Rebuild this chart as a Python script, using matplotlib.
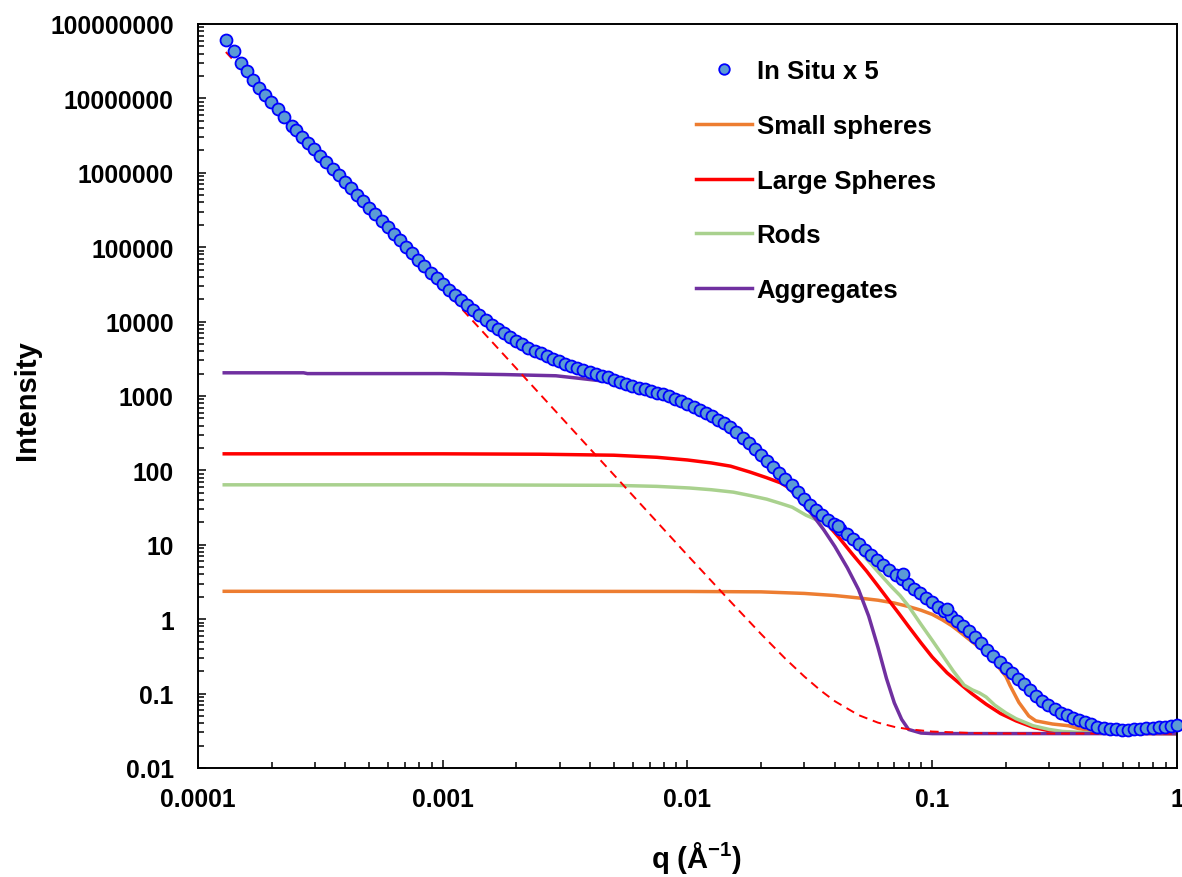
import numpy as np
import matplotlib
matplotlib.use('Agg')
import matplotlib.pyplot as plt
from matplotlib.ticker import LogLocator, FuncFormatter, NullFormatter

plt.rcParams['font.family'] = ['Liberation Sans', 'DejaVu Sans']
plt.rcParams['font.weight'] = 'bold'
plt.rcParams['mathtext.fontset'] = 'custom'
plt.rcParams['mathtext.rm'] = 'Liberation Sans:bold'
plt.rcParams['mathtext.it'] = 'Liberation Sans:bold'
plt.rcParams['mathtext.bf'] = 'Liberation Sans:bold'

# In situ scattering data (x 5)
q_data = [
    1.30e-4, 1.403e-4, 1.496e-4, 1.585e-4, 1.679e-4, 1.778e-4, 1.884e-4, 1.995e-4, 2.113e-4, 2.239e-4,
    2.415e-4, 2.512e-4, 2.661e-4, 2.818e-4, 2.985e-4, 3.162e-4, 3.350e-4, 3.548e-4, 3.758e-4, 3.981e-4,
    4.217e-4, 4.467e-4, 4.732e-4, 5.012e-4, 5.309e-4, 5.623e-4, 5.957e-4, 6.310e-4, 6.683e-4, 7.079e-4,
    7.499e-4, 7.943e-4, 8.414e-4, 8.913e-4, 9.441e-4, 1.000e-3, 1.059e-3, 1.122e-3, 1.189e-3, 1.259e-3,
    1.334e-3, 1.413e-3, 1.496e-3, 1.585e-3, 1.679e-3, 1.778e-3, 1.884e-3, 1.995e-3, 2.113e-3, 2.239e-3,
    2.371e-3, 2.512e-3, 2.661e-3, 2.818e-3, 2.985e-3, 3.162e-3, 3.350e-3, 3.548e-3, 3.758e-3, 3.981e-3,
    4.217e-3, 4.467e-3, 4.732e-3, 5.012e-3, 5.309e-3, 5.623e-3, 5.957e-3, 6.310e-3, 6.683e-3, 7.079e-3,
    7.499e-3, 7.943e-3, 8.414e-3, 8.913e-3, 9.441e-3, 0.01000, 0.01059, 0.01122, 0.01189, 0.01259,
    0.01334, 0.01413, 0.01496, 0.01585, 0.01679, 0.01778, 0.01884, 0.01995, 0.02113, 0.02239,
    0.02371, 0.02512, 0.02661, 0.02818, 0.02985, 0.03162, 0.03350, 0.03548, 0.03758, 0.03981,
    0.04217, 0.04467, 0.04732, 0.05012, 0.05309, 0.05623, 0.05957, 0.06310, 0.06683, 0.07079,
    0.07499, 0.07943, 0.08414, 0.08913, 0.09441, 0.1000, 0.1059, 0.1122, 0.1189, 0.1259,
    0.1334, 0.1413, 0.1496, 0.1585, 0.1679, 0.1778, 0.1884, 0.1995, 0.2113, 0.2239,
    0.2371, 0.2512, 0.2661, 0.2818, 0.2985, 0.3162, 0.3350, 0.3548, 0.3758, 0.3981,
    0.4217, 0.4467, 0.4732, 0.5012, 0.5309, 0.5623, 0.5957, 0.6310, 0.6683, 0.7079,
    0.7499, 0.7943, 0.8414, 0.8913, 0.9441, 1.000,
    0.0413, 0.0762, 0.1146]
I_data = [
    6.03e7, 4.27e7, 3.02e7, 2.30e7, 1.79e7, 1.40e7, 1.11e7, 9.00e6, 7.16e6, 5.65e6,
    4.30e6, 3.75e6, 3.07e6, 2.51e6, 2.06e6, 1.68e6, 1.38e6, 1.13e6, 9.25e5, 7.55e5,
    6.18e5, 5.06e5, 4.14e5, 3.39e5, 2.77e5, 2.27e5, 1.86e5, 1.52e5, 1.24e5, 1.02e5,
    8.34e4, 6.82e4, 5.58e4, 4.54e4, 3.81e4, 3.21e4, 2.69e4, 2.29e4, 1.95e4, 1.67e4,
    1.43e4, 1.22e4, 1.04e4, 8970, 7910, 6980, 6150, 5510, 4930, 4420,
    4050, 3740, 3450, 3180, 2940, 2720, 2520, 2390, 2250, 2090,
    1970, 1870, 1780, 1620, 1520, 1450, 1380, 1300, 1240, 1170,
    1110, 1050, 998, 920, 849, 782, 716, 652, 593, 537,
    481, 430, 384, 325, 276, 234, 195, 161, 133, 110,
    91.4, 75.7, 62.7, 51.9, 41.7, 34.2, 29.4, 25.4, 21.8, 18.8,
    16.2, 14.0, 11.9, 10.1, 8.63, 7.35, 6.27, 5.33, 4.54, 3.94,
    3.42, 2.96, 2.58, 2.24, 1.95, 1.69, 1.46, 1.27, 1.10, 0.940,
    0.802, 0.684, 0.575, 0.473, 0.380, 0.318, 0.267, 0.224, 0.189, 0.158,
    0.133, 0.112, 0.0942, 0.0804, 0.0710, 0.0627, 0.0556, 0.0514, 0.0475, 0.0440,
    0.0411, 0.0385, 0.0361, 0.0348, 0.0339, 0.0333, 0.0328, 0.0327, 0.0330, 0.0334,
    0.0340, 0.0346, 0.0352, 0.0359, 0.0369, 0.0380,
    18.1, 4.06, 1.37]

# Small spheres
q_small = [1.28e-4, 1e-3, 0.01, 0.02, 0.03, 0.04, 0.05, 0.06, 0.07, 0.08, 0.09, 0.1, 0.11, 0.12, 0.13,
           0.14, 0.15, 0.16, 0.177, 0.19, 0.2, 0.208, 0.226, 0.248, 0.265, 0.31, 0.36, 0.395, 0.466, 0.6, 1.0]
I_small = [2.37, 2.37, 2.36, 2.33, 2.22, 2.08, 1.93, 1.80, 1.65, 1.48, 1.32, 1.16, 0.98, 0.82, 0.67,
           0.55, 0.46, 0.39, 0.29, 0.21, 0.17, 0.128, 0.076, 0.050, 0.043, 0.039, 0.037, 0.034, 0.031, 0.0295, 0.029]

# Large spheres
q_large = [1.28e-4, 1e-3, 2.5e-3, 5e-3, 7.5e-3, 0.01, 0.0125, 0.015, 0.018, 0.021, 0.024, 0.0287, 0.0346,
           0.0416, 0.047, 0.054, 0.06, 0.066, 0.073, 0.08, 0.09, 0.1, 0.115, 0.13, 0.145, 0.166, 0.19,
           0.22, 0.26, 0.31, 0.4, 1.0]
I_large = [167, 167, 165, 160, 150, 138, 126, 114, 95, 80, 68, 48, 25,
           12.5, 7.6, 4.4, 2.8, 1.85, 1.2, 0.8, 0.48, 0.31, 0.19, 0.135, 0.10, 0.072, 0.054,
           0.043, 0.035, 0.031, 0.0295, 0.029]

# Rods
q_rods = [1.28e-4, 1e-3, 5e-3, 7.5e-3, 0.0102, 0.0125, 0.0154, 0.018, 0.0211, 0.024, 0.0268, 0.0305,
          0.035, 0.04, 0.045, 0.05, 0.055, 0.062, 0.068, 0.074, 0.08, 0.09, 0.1, 0.11, 0.122, 0.135,
          0.146, 0.156, 0.166, 0.18, 0.2, 0.22, 0.258, 0.3, 0.34, 0.45, 1.0]
I_rods = [64, 64, 63, 61, 58, 55, 51, 46, 41, 36, 32, 25,
          20.5, 16, 12, 8.5, 6.0, 3.85, 2.75, 2.07, 1.5, 0.85, 0.52, 0.33, 0.2, 0.13,
          0.112, 0.102, 0.09, 0.07, 0.055, 0.046, 0.037, 0.033, 0.031, 0.0295, 0.029]

# Aggregates
q_agg = [1.28e-4, 2.7e-4, 2.8e-4, 1e-3, 1.8e-3, 2.9e-3, 3.6e-3, 4.5e-3, 6e-3, 7.5e-3, 0.01, 0.0125,
         0.015, 0.0175, 0.02, 0.0225, 0.025, 0.0287, 0.0325, 0.036, 0.04, 0.045, 0.05, 0.055, 0.06,
         0.065, 0.07, 0.075, 0.08, 0.09, 0.1, 1.0]
I_agg = [2050, 2050, 2000, 2000, 1940, 1870, 1730, 1590, 1330, 1080, 760, 520,
         360, 240, 152, 100, 66, 40, 25, 16, 9.5, 4.9, 2.5, 1.1, 0.42,
         0.16, 0.075, 0.045, 0.033, 0.0295, 0.029, 0.029]

# Power-law (dashed)
q_fit = [1.3e-4, 3e-4, 1e-3, 3e-3, 0.01, 0.015, 0.02, 0.025, 0.03, 0.035, 0.04, 0.05, 0.06, 0.07,
         0.08, 0.1, 0.15, 0.2, 0.3, 1.0]
I_fit = [4.2e7, 2.13e6, 2.82e4, 547, 7.24, 1.72, 0.630, 0.299, 0.170, 0.110, 0.079, 0.0514, 0.0407,
         0.0357, 0.0332, 0.0309, 0.0294, 0.0291, 0.029, 0.029]

fig = plt.figure(figsize=(11.82, 8.78), dpi=100)
ax = fig.add_axes([0.1675, 0.12415, 0.82826, 0.84738])

ax.plot(q_small, I_small, color='#ED7D31', lw=2.5, label='Small spheres', zorder=2)
ax.plot(q_large, I_large, color='#FF0000', lw=2.5, label='Large Spheres', zorder=2)
ax.plot(q_rods, I_rods, color='#A9D18E', lw=2.5, label='Rods', zorder=2)
ax.plot(q_agg, I_agg, color='#7030A0', lw=2.5, label='Aggregates', zorder=2)
ax.plot(q_fit, I_fit, color='#FF0000', lw=1.4, dashes=(4.5, 3), zorder=3)
ax.plot(q_data, I_data, 'o', ms=8.6, mfc='#5B9BD5', mec='#0000FF', mew=1.3,
        label='In Situ x 5', zorder=4, clip_on=False)

ax.set_xscale('log')
ax.set_yscale('log')
ax.set_xlim(1e-4, 1)
ax.set_ylim(0.01, 1e8)
ax.set_xticks([10.0**k for k in range(-4, 1)])
ax.set_yticks([10.0**k for k in range(-2, 9)])
ax.xaxis.set_minor_locator(LogLocator(base=10, subs=range(2, 10), numticks=50))
ax.yaxis.set_minor_locator(LogLocator(base=10, subs=range(2, 10), numticks=50))
ax.xaxis.set_minor_formatter(NullFormatter())
ax.yaxis.set_minor_formatter(NullFormatter())


def fmt(v, pos):
    if v >= 1:
        return '%d' % round(v)
    return np.format_float_positional(v, trim='-')


ax.xaxis.set_major_formatter(FuncFormatter(fmt))
ax.yaxis.set_major_formatter(FuncFormatter(fmt))

ax.tick_params(which='both', direction='in', top=False, right=False, width=1.1, labelsize=17.7)
ax.tick_params(which='major', length=6)
ax.tick_params(which='minor', length=4.2)
ax.tick_params(axis='y', pad=17.5)
ax.tick_params(axis='x', pad=13.5)
for s in ax.spines.values():
    s.set_linewidth(1.4)

fig.text(27 / 1182, 1 - 400 / 878, 'Intensity', rotation=90, ha='center', va='center', fontsize=21)
fig.text(697 / 1182, 1 - 858 / 878, r'q (Å$^{-1}$)', ha='center', va='center', fontsize=21)

handles, labels = ax.get_legend_handles_labels()
order = [4, 0, 1, 2, 3]
leg = ax.legend([handles[i] for i in order], [labels[i] for i in order],
                loc='upper left', bbox_to_anchor=(0.5087, 0.953), frameon=False,
                fontsize=18.5, borderpad=0, borderaxespad=0, handlelength=2.16,
                handletextpad=0.2, labelspacing=1.2, numpoints=1)
leg.legend_handles[0].set_markersize(7.6)

plt.savefig('out.png', dpi=100)
